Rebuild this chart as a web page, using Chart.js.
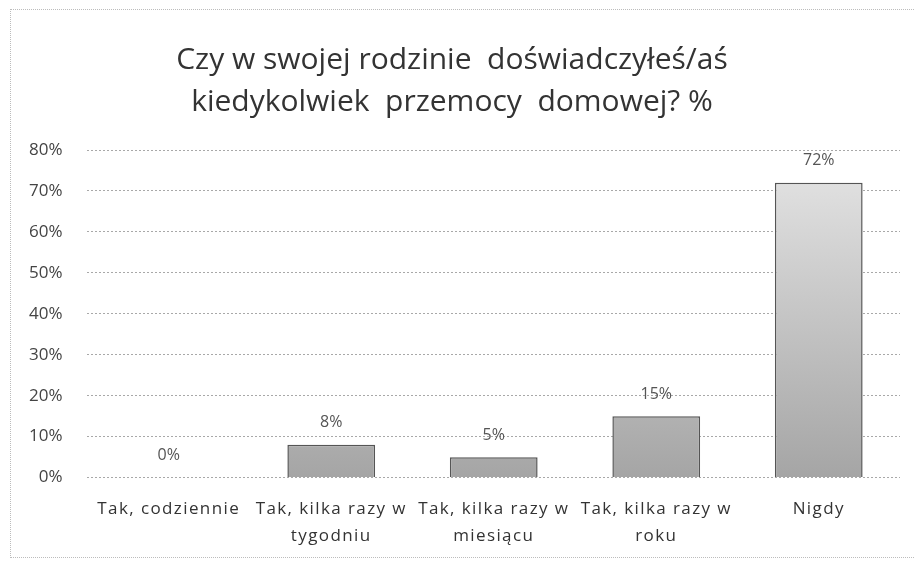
<!DOCTYPE html>
<html>
<head>
<meta charset="utf-8">
<script src="https://cdn.jsdelivr.net/npm/chart.js@4"></script>
<style>
  body { margin: 0; background: #fff; }
  #wrap { position: relative; width: 915px; height: 562px; }
  #frame { position: absolute; left: 10px; top: 9px; width: 920px; height: 549px;
           border: 1px dotted #bcbcbc; box-sizing: border-box; }
  canvas { position: absolute; left: 0; top: 0; }
</style>
</head>
<body>
<div id="wrap">
  <div id="frame"></div>
  <canvas id="barChart" width="915" height="562"></canvas>
</div>
<script>
const categories = [
    'Tak, codziennie',
    ['Tak, kilka razy w', 'tygodniu'],
    ['Tak, kilka razy w', 'miesiącu'],
    ['Tak, kilka razy w', 'roku'],
    'Nigdy'
];
const values = [0, 8, 5, 15, 72];
const yTicks = [0, 10, 20, 30, 40, 50, 60, 70, 80];

const fontFamily = '"Open Sans", Lato, sans-serif';

// gradient like the original excel bars, light on top, darker at the bottom
function barFill(context) {
    const area = context.chart.chartArea;
    if (!area) return '#c8c8c8';
    const g = context.chart.ctx.createLinearGradient(0, area.bottom, 0, area.top);
    g.addColorStop(0, '#a5a5a5');
    g.addColorStop(1, '#e6e6e6');
    return g;
}

// value labels + wider letter spacing for the category labels (drawn after datasets, ticks z = 1)
const valueLabels = {
    id: 'valueLabels',
    afterDatasetsDraw(chart) {
        const ctx = chart.ctx;
        const meta = chart.getDatasetMeta(0);
        ctx.save();
        ctx.font = '16px ' + fontFamily;
        ctx.fillStyle = '#555';
        ctx.textAlign = 'center';
        ctx.textBaseline = 'middle';
        meta.data.forEach((bar, i) => {
            ctx.fillText(values[i] + '%', bar.x, bar.y - 22);
        });
        ctx.restore();
        ctx.letterSpacing = '1.4px';
    },
    afterDraw(chart) {
        chart.ctx.letterSpacing = '0px';
    }
};

const ctx = document.getElementById('barChart');

new Chart(ctx, {
    type: 'bar',
    data: {
        labels: categories,
        datasets: [{
            data: values,
            backgroundColor: barFill,
            borderColor: '#555',
            borderWidth: 1.5,
            categoryPercentage: 1,
            barPercentage: 0.54
        }]
    },
    options: {
        responsive: false,
        animation: false,
        layout: { padding: { left: 4, right: 15, top: 13, bottom: -6 } },
        plugins: {
            legend: { display: false },
            tooltip: { enabled: false },
            title: {
                display: true,
                text: ['Czy w swojej rodzinie  doświadczyłeś/aś', 'kiedykolwiek  przemocy  domowej? %'],
                color: '#333',
                font: { family: fontFamily, size: 30, weight: 'normal', lineHeight: 1.4 },
                padding: { top: 26, bottom: 27 }
            }
        },
        scales: {
            x: {
                grid: { display: false, drawTicks: false },
                border: { display: false },
                ticks: {
                    z: 1,
                    color: '#333',
                    padding: 18,
                    maxRotation: 0,
                    autoSkip: false,
                    font: { family: fontFamily, size: 17, lineHeight: 1.6 }
                }
            },
            y: {
                min: 0,
                max: 80,
                afterBuildTicks(axis) { axis.ticks = yTicks.map(v => ({ value: v })); },
                border: { display: false, dash: [2, 2] },
                grid: {
                    color: '#a8a8a8',
                    lineWidth: 1,
                    drawTicks: false
                },
                ticks: {
                    color: '#444',
                    padding: 25,
                    font: { family: fontFamily, size: 17 },
                    callback: v => v + '%'
                }
            }
        }
    },
    plugins: [valueLabels]
});
</script>
</body>
</html>
